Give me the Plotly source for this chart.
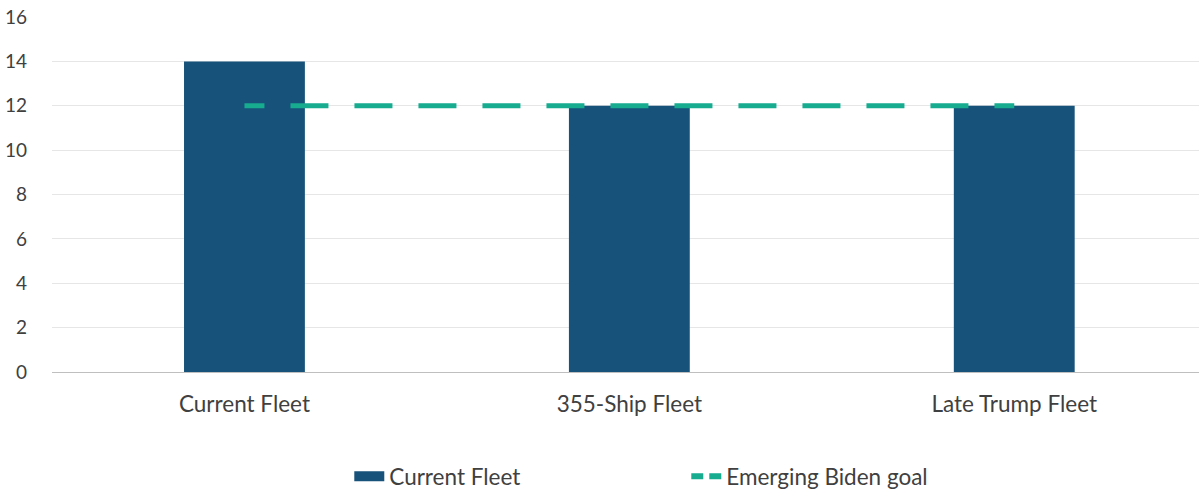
import plotly.graph_objects as go

categories = ["Current Fleet", "355-Ship Fleet", "Late Trump Fleet"]
fleet_values = [14, 12, 12]
biden_goal = [12, 12, 12]
y_ticks = [0, 2, 4, 6, 8, 10, 12, 14, 16]

BAR = "#17527a"
LINE = "#17ab90"
TXT = "#404040"
FONT = "Lato"

# dash pattern: first partial dash then regular 38/26 rhythm
dash_pattern = "20px,26px," + ",".join(["38px,26px"] * 14)

fig = go.Figure()
fig.add_trace(go.Bar(
    x=categories, y=fleet_values, name="Current Fleet", showlegend=False,
    marker=dict(color=BAR, line=dict(width=0)), width=0.314,
))
fig.add_trace(go.Scatter(
    x=categories, y=biden_goal, name="Emerging Biden goal", mode="lines", showlegend=False,
    line=dict(color=LINE, width=5, dash=dash_pattern),
))
# legend proxies (no data drawn)
fig.add_trace(go.Scatter(
    x=[None], y=[None], name="Current Fleet", mode="lines",
    line=dict(color=BAR, width=17),
))
fig.add_trace(go.Scatter(
    x=[None], y=[None], name="Emerging Biden goal", mode="lines",
    line=dict(color=LINE, width=6, dash="12px,6px"),
))

fig.update_layout(
    width=1199, height=491,
    margin=dict(l=52, r=0, t=17, b=119, autoexpand=False),
    paper_bgcolor="white", plot_bgcolor="white",
    font=dict(family=FONT, size=22, color=TXT),
    showlegend=True,
    legend=dict(orientation="h", x=0.553, xanchor="center", y=-0.295, yanchor="middle",
                font=dict(family=FONT, size=22.5, color=TXT),
                traceorder="normal", entrywidth=292),
)
fig.update_xaxes(range=[-0.5, 2.48], showgrid=False, showline=True, linecolor="#bfbfbf",
                 linewidth=1, ticks="", tickfont=dict(size=22.5, color=TXT), ticklabelstandoff=12,
                 automargin=False)
fig.update_yaxes(range=[0, 16], tickvals=y_ticks, showgrid=True, gridcolor="#e6e6e6",
                 gridwidth=1, zeroline=False, ticks="", tickfont=dict(size=19, color=TXT),
                 ticklabelstandoff=24, automargin=False)

fig.write_html("out.html")
